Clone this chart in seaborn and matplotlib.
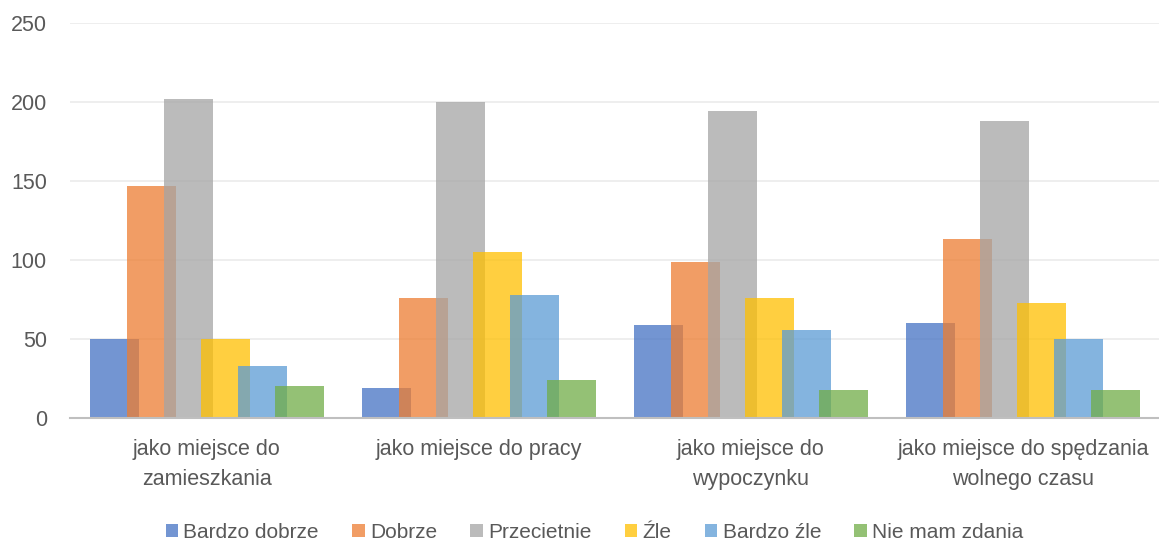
import matplotlib
matplotlib.use("Agg")
import matplotlib.pyplot as plt
import seaborn as sns
import pandas as pd
from matplotlib.patches import Patch

categories = ["jako miejsce do\nzamieszkania", "jako miejsce do pracy",
              "jako miejsce do\nwypoczynku", "jako miejsce do spędzania\nwolnego czasu"]
series = ["Bardzo dobrze", "Dobrze", "Przecietnie", "Źle", "Bardzo źle", "Nie mam zdania"]
bardzo_dobrze = [50, 19, 59, 60]
dobrze = [147, 76, 99, 113]
przecietnie = [202, 200, 194, 188]
zle = [50, 105, 76, 73]
bardzo_zle = [33, 78, 56, 50]
nie_mam_zdania = [20, 24, 18, 18]
colors = ["#4472C4", "#ED7D31", "#A5A5A5", "#FFC000", "#5B9BD5", "#70AD47"]
yticks = [0, 50, 100, 150, 200, 250]

values = [bardzo_dobrze, dobrze, przecietnie, zle, bardzo_zle, nie_mam_zdania]
rows = []
for s, vals in zip(series, values):
    for c, v in zip(categories, vals):
        rows.append({"cat": c, "series": s, "val": v})
df = pd.DataFrame(rows)

sns.set_theme(style="white")
plt.rcParams["font.family"] = ["Liberation Sans", "DejaVu Sans"]

fig = plt.figure(figsize=(11.59, 5.42), dpi=100)
ax = fig.add_axes([0.0608, 0.2288, 0.9392, 0.7288])
sns.barplot(data=df, x="cat", y="val", hue="series", order=categories,
            hue_order=series, palette=colors, saturation=1, width=0.816,
            dodge=True, alpha=0.75, linewidth=0, errorbar=None, ax=ax,
            legend=False)

# widen bars to create overlap
bw = 0.18
for p in ax.patches:
    cx = p.get_x() + p.get_width() / 2
    p.set_width(bw)
    p.set_x(cx - bw / 2)

ax.set_ylim(0, 250)
ax.set_xlim(-0.5, 3.5)
ax.set_yticks(yticks)
ax.yaxis.grid(True, color="#EDEDED", linewidth=1.3)
ax.set_axisbelow(True)
for s in ["left", "right", "top"]:
    ax.spines[s].set_visible(False)
ax.spines["bottom"].set_color("#BFBFBF")
ax.spines["bottom"].set_linewidth(1.5)
ax.tick_params(axis="both", length=0, labelsize=15.5, labelcolor="#595959")
ax.tick_params(axis="y", pad=17)
ax.tick_params(axis="x", pad=15)
for t in ax.get_xticklabels():
    t.set_linespacing(1.6)
ax.set_xlabel("")
ax.set_ylabel("")

handles = [Patch(facecolor=c, alpha=0.75, edgecolor="none") for c in colors]
fig.legend(handles, series, loc="center", bbox_to_anchor=(0.513, 0.018),
           ncol=6, frameon=False, fontsize=15, labelcolor="#595959",
           handlelength=0.6, handleheight=0.6, handletextpad=0.25,
           columnspacing=1.6)

fig.savefig("out.png", dpi=100, facecolor="white")
